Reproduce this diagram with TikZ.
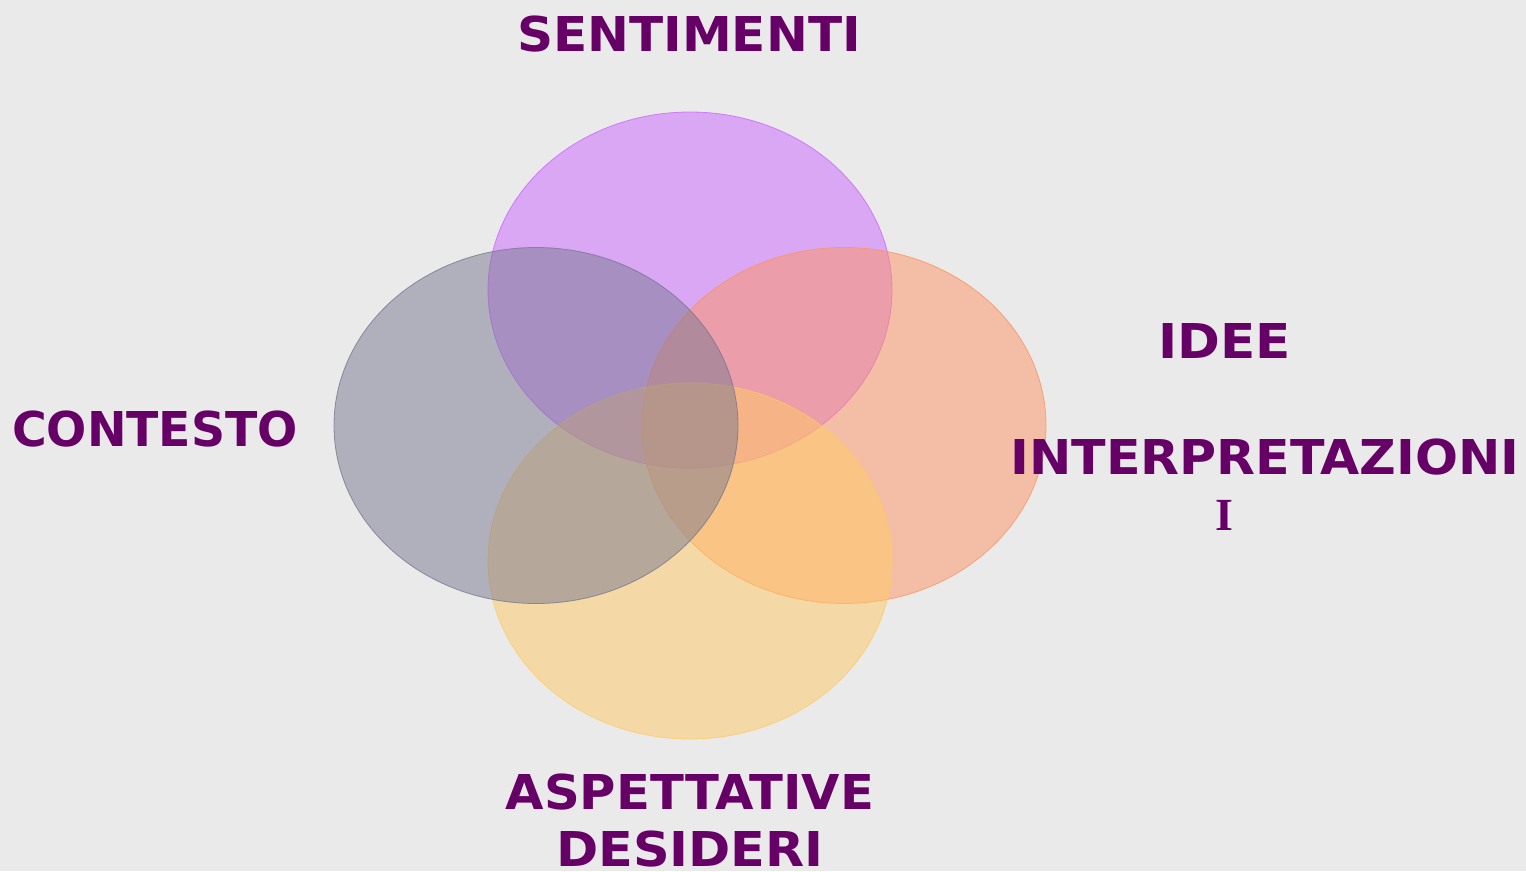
\documentclass[tikz,border=0pt]{standalone}
\usepackage{fontspec}
\setmainfont{DejaVu Sans}
\newfontfamily\cursorfont{Liberation Serif}
\definecolor{bgc}{HTML}{EAEAEA}
\definecolor{txt}{HTML}{660066}
\definecolor{cpurple}{HTML}{CC66FF}
\definecolor{cgray}{HTML}{787890}
\definecolor{corange}{HTML}{FC9462}
\definecolor{cyellow}{HTML}{FFCA64}
\tikzset{
  blob/.style={draw=#1, fill=#1, fill opacity=0.5, draw opacity=0.8, line width=0.8pt},
  lab/.style={text=txt, font=\fontsize{48}{58}\selectfont\bfseries, anchor=base, inner sep=0pt}
}
\newcommand{\stretchtxt}[2]{\scalebox{#1}[1]{#2}}
\begin{document}
\begin{tikzpicture}[x=1pt,y=-1pt]
\fill[bgc] (0,0) rectangle (1526,871);
\useasboundingbox (0,0) rectangle (1526,871);
\path[blob=cpurple] (690,290) ellipse [x radius=202, y radius=178];
\path[blob=corange] (844,425.5) ellipse [x radius=202, y radius=178];
\path[blob=cyellow] (690,561) ellipse [x radius=202, y radius=178];
\path[blob=cgray] (536,425.5) ellipse [x radius=202, y radius=178];
\node[lab] (sent) at (689,51) {\stretchtxt{1.043}{SENTIMENTI}};
\node[lab] (idee) at (1224.5,358) {\stretchtxt{1.075}{IDEE}};
\node[lab] (interp) at (1265,474) {\stretchtxt{1.054}{INTERPRETAZIONI}};
\node[lab] (cont) at (155,446) {\stretchtxt{0.986}{CONTESTO}};
\node[lab] (asp) at (690,809) {\stretchtxt{1.034}{ASPETTATIVE}};
\node[lab] (des) at (690,866) {\stretchtxt{1.06}{DESIDERI}};
\node[text=txt, font=\cursorfont\bfseries\fontsize{46}{50}\selectfont, anchor=base, inner sep=0pt] (cur) at (1224,530) {I};
\end{tikzpicture}
\end{document}
